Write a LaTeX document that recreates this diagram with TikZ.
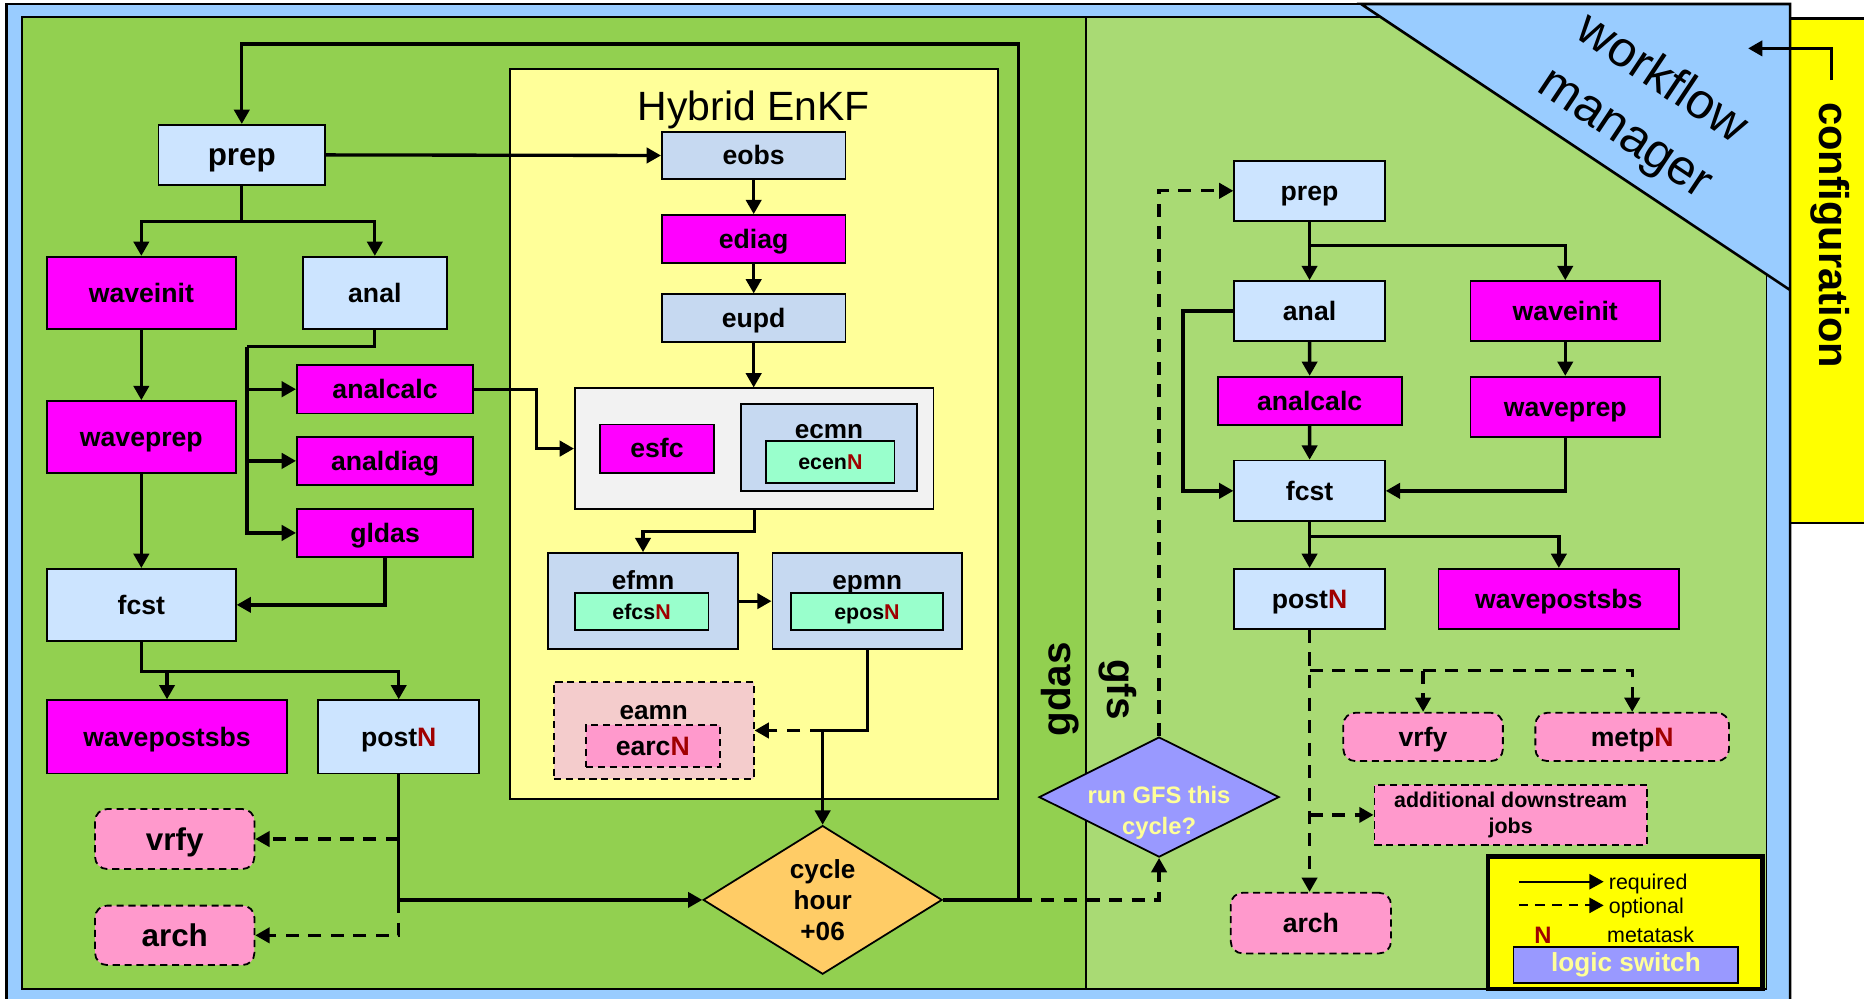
\documentclass[tikz,border=0pt]{standalone}
\usepackage{fontspec}
\setmainfont{Liberation Sans}
\usepackage{tikz}
\usetikzlibrary{arrows.meta,positioning,shapes.geometric}
\definecolor{myskyblue}{RGB}{153,204,255}
\definecolor{mygreen}{RGB}{146,208,80}
\definecolor{mylightgreen}{RGB}{169,218,116}
\definecolor{mytaskblue}{RGB}{204,228,255}
\definecolor{myenkfblue}{RGB}{198,217,241}
\definecolor{mymagenta}{RGB}{255,0,255}
\definecolor{mypink}{RGB}{255,153,204}
\definecolor{mymint}{RGB}{153,255,204}
\definecolor{mycream}{RGB}{255,255,153}
\definecolor{mygray}{RGB}{242,242,242}
\definecolor{myrose}{RGB}{244,204,204}
\definecolor{myorange}{RGB}{255,204,102}
\definecolor{mylavender}{RGB}{153,153,255}
\definecolor{myred}{RGB}{160,0,0}
\definecolor{myyellow}{RGB}{255,255,0}

\begin{document}
\begin{tikzpicture}[
  x=0.5pt, y=-0.5pt,
  mysize/.style 2 args={minimum width=#1*0.5pt, minimum height=#2*0.5pt},
  mybox/.style={draw, line width=0.75pt, inner sep=0pt, align=center},
  mytext/.style={font=\bfseries\fontsize{11.2}{13.4}\selectfont, text height=10.1pt, text depth=2.2pt},
  mybig/.style={font=\bfseries\fontsize{13.2}{15.8}\selectfont, text height=11.9pt, text depth=2.6pt},
  mysmall/.style={font=\bfseries\fontsize{9}{10.8}\selectfont, text height=8.1pt, text depth=1.8pt},
  mytask/.style={mybox, mytext, fill=mytaskblue},
  mywave/.style={mybox, mytext, fill=mymagenta},
  myenkf/.style={mybox, mytext, fill=myenkfblue},
  mymeta/.style={mybox, mysmall, fill=mymint},
  myoptional/.style={mybox, mytext, fill=mypink, rounded corners=5pt, dash pattern=on 3pt off 2pt},
  mydashed/.style={mybox, dash pattern=on 3pt off 2pt},
  mytitle/.style={inner sep=0pt, font=\bfseries\fontsize{11}{13.2}\selectfont, text height=9.9pt, text depth=2.2pt},
  mydecision/.style={mybox, diamond, aspect=1.6, font=\bfseries\fontsize{11}{13}\selectfont},
  mylink/.style={line width=1.4pt},
  myarrow/.style={mylink, -{Triangle[length=6pt,width=6.4pt]}},
  myopt/.style={myarrow, dash pattern=on 5.5pt off 4pt},
  mylegend/.style={inner sep=2pt, font=\fontsize{9}{10.8}\selectfont}
]
\useasboundingbox (0,0) rectangle (1568,840);
\clip (0,0) rectangle (1568,840);

\draw[line width=1.1pt, fill=myskyblue] (5.6,3.4) rectangle (1505.8,870);
\draw[line width=1.1pt, fill=myyellow] (1505.8,15.4) rectangle (1620,440);
\draw[line width=0.75pt, fill=mygreen] (18.8,14.6) rectangle (913.4,832);
\draw[line width=0.75pt, fill=mylightgreen] (913.4,14.6) rectangle (1486,832);
\fill[myskyblue] (1145,3.4) -- (1505.8,3.4) -- (1505.8,244) -- cycle;
\draw[line width=1.1pt] (1505.8,244) -- (1145,3.4) -- (1505.8,3.4) -- (1505.8,870);

\node[rotate=-33.7, align=center, font=\fontsize{21}{27.5}\selectfont] (wfm) at (1382,90) {workflow\\manager};
\node[rotate=-90, font=\bfseries\fontsize{17.5}{21}\selectfont] (cfg) at (1539.5,197.7) {configuration};
\coordinate (cfgtop) at (1540.6,67.3);
\coordinate (wfmtip) at (1470.5,40.7);
\draw[myarrow] (cfgtop) |- (wfmtip);
\node[rotate=90, font=\bfseries\fontsize{17}{20}\selectfont] (gdaslabel) at (892,580) {gdas};
\node[rotate=-90, font=\bfseries\fontsize{17}{20}\selectfont] (gfslabel) at (940.5,580) {gfs};

\node[mytask, mybig, mysize={140.1}{50.6}] (gprep) at (203.4,130.3) {prep};
\node[mywave, mysize={158.9}{61}] (gwaveinit) at (118.9,246.5) {waveinit};
\node[mytask, mysize={121.3}{61}] (ganal) at (315.3,246.5) {anal};
\node[mywave, mysize={148.3}{40.7}] (ganalcalc) at (323.9,327.4) {analcalc};
\node[mywave, mysize={148.3}{40.7}] (ganaldiag) at (323.9,387.7) {analdiag};
\node[mywave, mysize={148.3}{40.5}] (ggldas) at (323.9,448.3) {gldas};
\node[mywave, mysize={158.9}{60.7}] (gwaveprep) at (118.9,367.7) {waveprep};
\node[mytask, mysize={158.9}{60.5}] (gfcst) at (118.9,508.8) {fcst};
\node[mywave, mysize={202}{61.6}] (gwavepostsbs) at (140.5,619.8) {wavepostsbs};
\node[mytask, mysize={135.3}{61.6}] (gpost) at (335.4,619.8) {post\textcolor{myred}{N}};
\node[myoptional, mybig, mysize={134}{50.4}] (gvrfy) at (147,705.8) {vrfy};
\node[myoptional, mybig, mysize={134}{50}] (garch) at (147,786.8) {arch};

\node[mybox, fill=mycream, mysize={410.5}{613.7}] (enkf) at (634.15,365.15) {};
\node[font=\fontsize{17.2}{20.6}\selectfont] (enkftitle) at (634,92.5) {Hybrid EnKF};
\node[myenkf, mysize={154.5}{40}] (eobs) at (634,130.8) {eobs};
\node[mywave, mysize={154.5}{40.6}] (ediag) at (634,201.2) {ediag};
\node[myenkf, mysize={154.5}{40.4}] (eupd) at (634,267.8) {eupd};
\node[mybox, fill=mygray, mysize={301.6}{101.3}] (egroup) at (634.4,377.35) {};
\node[mywave, mysize={96.3}{40.6}] (esfc) at (552.6,377.3) {esfc};
\node[mybox, fill=myenkfblue, mysize={148.7}{73.2}] (ecmn) at (697.35,376.4) {};
\node[mytitle] (ecmntitle) at (697.35,360.8) {ecmn};
\node[mymeta, mysize={107.9}{35}] (ecen) at (698.5,388.5) {ecen\textcolor{myred}{N}};
\node[mybox, fill=myenkfblue, mysize={160}{81}] (efmn) at (540.9,505.7) {};
\node[mytitle] (efmntitle) at (540.9,488.2) {efmn};
\node[mymeta, mysize={112.6}{31}] (efcs) at (539.7,514.5) {efcs\textcolor{myred}{N}};
\node[mybox, fill=myenkfblue, mysize={159.5}{81}] (epmn) at (729.5,505.7) {};
\node[mytitle] (epmntitle) at (729.5,488.2) {epmn};
\node[mymeta, mysize={128}{31}] (epos) at (729.3,514.5) {epos\textcolor{myred}{N}};
\node[mydashed, fill=myrose, mysize={168.2}{81}] (eamn) at (549.9,614.5) {};
\node[mytitle] (eamntitle) at (549.9,597.2) {eamn};
\node[mydashed, mytext, fill=mypink, mysize={112.6}{35}] (earc) at (549.1,627.5) {earc\textcolor{myred}{N}};

\node[mydecision, fill=myorange, mysize={201}{125}] (cycle) at (692,757) {cycle\\hour\\+06};
\node[mydecision, fill=mylavender, mysize={202}{101}] (run) at (975,670.5) {};
\node[align=center, text=mycream, font=\bfseries\fontsize{10}{13}\selectfont] (runtext) at (975,684) {run GFS this\\cycle?};

\node[mytask, mysize={126.7}{50.2}] (fprep) at (1101.6,160.5) {prep};
\node[mytask, mysize={126.7}{50.2}] (fanal) at (1101.6,261.5) {anal};
\node[mywave, mysize={159.4}{50.2}] (fwaveinit) at (1316.7,261.5) {waveinit};
\node[mywave, mysize={154.7}{40.6}] (fanalcalc) at (1101.7,337.2) {analcalc};
\node[mywave, mysize={159.4}{50.4}] (fwaveprep) at (1316.7,342.1) {waveprep};
\node[mytask, mysize={126.7}{50.9}] (ffcst) at (1101.6,412.9) {fcst};
\node[mytask, mysize={126.7}{50.6}] (fpost) at (1101.6,503.8) {post\textcolor{myred}{N}};
\node[mywave, mysize={202.6}{50.6}] (fwavepostsbs) at (1311.3,503.8) {wavepostsbs};
\node[myoptional, mysize={134.2}{40.6}] (fvrfy) at (1197.1,619.9) {vrfy};
\node[myoptional, mysize={162.9}{40.6}] (fmetp) at (1373,619.9) {metp\textcolor{myred}{N}};
\node[mydashed, fill=mypink, font=\bfseries\fontsize{9}{11}\selectfont, mysize={229.3}{50.6}] (fadd) at (1270.8,685.5) {additional downstream\\jobs};
\node[myoptional, mysize={134.8}{51}] (farch) at (1102.7,776.5) {arch};

\node[mybox, line width=1.8pt, fill=myyellow, mysize={231}{111.5}] (legend) at (1367,776.3) {};
\coordinate (lreqstart) at (1277.6,741.7);
\coordinate (loptstart) at (1277.6,761.6);
\node[mylegend, anchor=west] (lreq) at (1349,744) {required};
\node[mylegend, anchor=west] (lopt) at (1349,764) {optional};
\draw[myarrow, line width=0.8pt] (lreqstart) -- (lreqstart -| lreq.west);
\draw[myopt, line width=0.8pt, dash pattern=on 4pt off 3pt] (loptstart) -- (loptstart -| lopt.west);
\node[text=myred, font=\bfseries\fontsize{10}{12}\selectfont] (lmetan) at (1298,786.5) {N};
\node[mylegend, anchor=west] (lmeta) at (1347.6,786.5) {metatask};
\node[mybox, fill=mylavender, text=mycream, font=\bfseries\fontsize{11}{13}\selectfont, mysize={189}{30.4}] (llogic) at (1367.7,811.8) {logic switch};

\draw[myarrow] (gprep.east) -- (eobs.west);
\coordinate (gloop) at (857,37);
\draw[myarrow] (cycle.east) -| (gloop) -| (gprep.north);
\draw[myarrow] (gprep.south) -- ++(0,30) -| (gwaveinit.north);
\draw[myarrow] (gprep.south) -- ++(0,30) -| (ganal.north);
\coordinate (gsplit) at (207.7,291.6);
\draw[mylink] (ganal.south) |- (gsplit);
\foreach \Target in {ganalcalc, ganaldiag, ggldas}
  \draw[myarrow] (gsplit) |- (\Target.west);
\draw[myarrow] (gwaveinit) -- (gwaveprep);
\draw[myarrow] (gwaveprep) -- (gfcst);
\draw[myarrow] (ggldas.south) |- (gfcst.east);
\draw[myarrow] (gfcst.south) -- ++(0,25.3) -| (gpost.north);
\draw[myarrow] (gfcst.south) -- ++(0,25.3) -| (gwavepostsbs.north);
\draw[myarrow] (gpost.south) |- (cycle.west);
\draw[myopt] (gpost.south |- gvrfy.east) -- (gvrfy.east);
\draw[myopt] (gpost.south |- cycle.west) |- (garch.east);

\draw[myarrow] (eobs) -- (ediag);
\draw[myarrow] (ediag) -- (eupd);
\draw[myarrow] (eupd.south) -- (eupd.south |- egroup.north);
\draw[myarrow] (ganalcalc.east) -- ++(52.6,0) |- (egroup.west);
\draw[myarrow] (egroup.south) -- ++(0,18.3) -| (efmn.north);
\draw[myarrow] (efmn) -- (epmn);
\draw[myarrow] (epmn.south) -- ++(0,67.6) -| (cycle.north);
\draw[myopt] (cycle.north |- eamn.east) -- (eamn.east);

\draw[myopt] (gloop |- cycle.east) -| (run.south);
\draw[myopt] (run.north) |- (fprep.west);
\draw[myarrow] (fprep) -- (fanal);
\draw[myarrow] (fprep.south) -- ++(0,20.4) -| (fwaveinit.north);
\draw[myarrow] (fanal) -- (fanalcalc);
\draw[myarrow] (fanalcalc) -- (ffcst);
\draw[myarrow] (fanal.west) -- ++(-42.3,0) |- (ffcst.west);
\draw[myarrow] (fwaveinit) -- (fwaveprep);
\draw[myarrow] (fwaveprep.south) |- (ffcst.east);
\draw[myarrow] (ffcst) -- (fpost);
\draw[myarrow] (ffcst.south) -- ++(0,12.2) -| (fwavepostsbs.north);
\draw[myopt] (fpost.south) -- (fpost.south |- farch.north);
\coordinate (fsplit) at (1101.6,564.3);
\draw[myopt] (fsplit) -| (fmetp.north);
\draw[myopt] (fvrfy.north |- fsplit) -- (fvrfy.north);
\draw[myopt] (fpost.south |- fadd.west) -- (fadd.west);

\end{tikzpicture}
\end{document}
